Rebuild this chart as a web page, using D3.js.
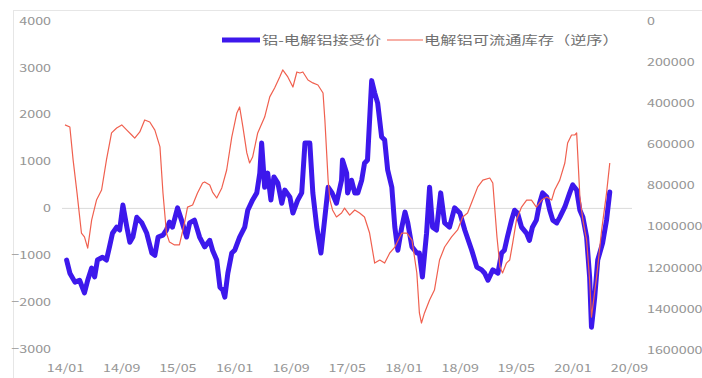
<!DOCTYPE html>
<html><head><meta charset="utf-8">
<script src="https://cdn.jsdelivr.net/npm/d3@7"></script>
<style>html,body{margin:0;padding:0;background:#fff;overflow:hidden}</style>
</head><body>
<svg id="c" width="702" height="378"></svg>
<script>
// ---- data ----
const seriesNames = ["铝-电解铝接受价", "电解铝可流通库存（逆序）"];
const leftTicks = [-3000, -2000, -1000, 0, 1000, 2000, 3000, 4000];
const rightTicks = [0, 200000, 400000, 600000, 800000, 1000000, 1200000, 1400000, 1600000];
const xTickLabels = ["14/01","14/09","15/05","16/01","16/09","17/05","18/01","18/09","19/05","20/01","20/09"];

const spreadDates = ["2014-01-08","2014-01-22","2014-02-13","2014-03-05","2014-03-26","2014-04-09","2014-04-26","2014-05-09","2014-05-21","2014-06-12","2014-06-29","2014-07-12","2014-07-25","2014-08-12","2014-08-25","2014-09-08","2014-09-25","2014-10-08","2014-10-21","2014-11-07","2014-11-29","2014-12-20","2015-01-11","2015-01-24","2015-02-07","2015-02-28","2015-03-15","2015-03-28","2015-04-10","2015-05-02","2015-05-19","2015-06-10","2015-06-23","2015-07-14","2015-08-05","2015-08-27","2015-09-18","2015-09-30","2015-10-18","2015-11-01","2015-11-13","2015-11-22","2015-12-05","2015-12-22","2016-01-04","2016-01-25","2016-02-16","2016-02-29","2016-03-21","2016-04-08","2016-04-21","2016-04-29","2016-05-04","2016-05-12","2016-05-25","2016-06-08","2016-06-21","2016-07-08","2016-07-25","2016-08-07","2016-08-29","2016-09-11","2016-10-02","2016-10-19","2016-11-02","2016-11-23","2016-12-06","2016-12-23","2017-01-10","2017-01-27","2017-02-10","2017-02-27","2017-03-18","2017-04-09","2017-04-13","2017-05-01","2017-05-05","2017-05-22","2017-06-05","2017-06-18","2017-07-05","2017-07-17","2017-07-30","2017-08-17","2017-08-30","2017-09-12","2017-09-29","2017-10-12","2017-10-25","2017-11-12","2017-11-25","2017-12-08","2017-12-25","2018-01-08","2018-01-20","2018-02-07","2018-02-28","2018-03-11","2018-03-24","2018-04-11","2018-04-24","2018-05-07","2018-05-24","2018-06-11","2018-06-28","2018-07-19","2018-08-10","2018-09-02","2018-09-23","2018-10-23","2018-11-14","2018-12-05","2018-12-18","2019-01-01","2019-01-22","2019-02-13","2019-03-01","2019-03-13","2019-03-26","2019-04-13","2019-04-26","2019-05-09","2019-05-26","2019-06-17","2019-06-29","2019-07-12","2019-07-29","2019-08-12","2019-08-25","2019-09-12","2019-09-25","2019-10-08","2019-10-25","2019-11-07","2019-11-29","2019-12-20","2020-01-02","2020-01-19","2020-02-02","2020-02-15","2020-03-02","2020-03-15","2020-03-23","2020-04-06","2020-04-19","2020-05-10","2020-05-27","2020-06-10"];
const spreadValues = [-1100,-1380,-1570,-1530,-1800,-1530,-1270,-1460,-1100,-1040,-1100,-820,-530,-400,-460,70,-400,-720,-610,-190,-310,-530,-950,-1000,-610,-570,-460,-290,-400,10,-250,-610,-310,-250,-610,-820,-680,-890,-1100,-1680,-1740,-1890,-1380,-950,-890,-610,-400,-40,180,330,750,1390,1030,450,750,180,670,540,110,390,240,-100,180,330,1390,1390,330,-400,-950,-190,450,330,110,600,1030,750,330,600,330,330,600,960,1030,2720,2460,2240,1520,1460,820,450,-400,-890,-400,-80,-310,-820,-950,-950,-1460,-530,450,-400,-460,330,-310,-400,10,-100,-460,-890,-1250,-1310,-1380,-1530,-1310,-1380,-950,-890,-610,-250,-40,-100,-400,-530,-680,-400,-250,110,330,240,-40,-250,-310,-190,30,330,500,390,-40,-190,-610,-1460,-2530,-1890,-1100,-740,-250,350];

const stockDates = ["2014-01-01","2014-01-22","2014-02-05","2014-02-22","2014-03-13","2014-03-26","2014-04-09","2014-04-26","2014-05-17","2014-06-08","2014-06-29","2014-07-21","2014-08-12","2014-09-03","2014-09-25","2014-10-16","2014-10-29","2014-11-20","2014-12-11","2015-01-02","2015-01-24","2015-02-15","2015-02-28","2015-03-15","2015-03-28","2015-04-19","2015-05-10","2015-06-01","2015-06-14","2015-07-06","2015-07-27","2015-08-18","2015-08-27","2015-09-18","2015-09-30","2015-10-18","2015-11-09","2015-11-30","2015-12-22","2016-01-13","2016-01-25","2016-02-08","2016-02-25","2016-03-08","2016-03-21","2016-04-12","2016-05-12","2016-06-03","2016-06-24","2016-07-16","2016-07-29","2016-08-20","2016-09-11","2016-09-28","2016-10-11","2016-10-24","2016-11-15","2016-12-06","2016-12-28","2017-01-19","2017-01-27","2017-02-10","2017-02-18","2017-03-01","2017-03-18","2017-04-09","2017-04-22","2017-05-14","2017-06-05","2017-06-26","2017-07-17","2017-08-08","2017-08-30","2017-09-21","2017-10-12","2017-11-03","2017-11-25","2017-12-25","2018-01-16","2018-02-07","2018-02-28","2018-03-11","2018-03-20","2018-04-02","2018-04-24","2018-05-15","2018-06-06","2018-06-28","2018-07-28","2018-08-23","2018-09-14","2018-10-05","2018-10-27","2018-11-18","2018-12-10","2019-01-09","2019-01-22","2019-02-09","2019-02-22","2019-03-05","2019-03-22","2019-04-05","2019-04-18","2019-05-04","2019-05-26","2019-06-17","2019-07-08","2019-07-29","2019-08-21","2019-09-12","2019-10-03","2019-10-16","2019-11-07","2019-11-29","2019-12-11","2019-12-28","2020-01-11","2020-01-19","2020-02-02","2020-02-15","2020-03-02","2020-03-15","2020-03-23","2020-04-14","2020-05-06","2020-05-27","2020-06-10"];
const stockValues = [507000,517000,677000,838000,1032000,1051000,1105000,969000,872000,823000,677000,546000,522000,507000,532000,556000,571000,541000,483000,493000,532000,614000,838000,1032000,1076000,1090000,1090000,983000,906000,896000,838000,789000,784000,799000,833000,862000,813000,726000,566000,449000,420000,517000,643000,692000,663000,546000,469000,371000,328000,274000,240000,274000,323000,250000,255000,250000,289000,303000,313000,352000,483000,775000,872000,920000,954000,935000,911000,945000,920000,935000,954000,1032000,1178000,1163000,1178000,1129000,1100000,1032000,1032000,1066000,1226000,1420000,1469000,1420000,1357000,1309000,1163000,1100000,1051000,1017000,954000,935000,872000,808000,775000,765000,789000,1051000,1197000,1226000,1178000,1163000,1080000,969000,906000,872000,872000,906000,872000,857000,872000,823000,775000,692000,595000,556000,556000,546000,857000,969000,1066000,1260000,1440000,1246000,1017000,838000,692000];

// ---- chart ----
const parse = d3.timeParse("%Y-%m-%d");
const svg = d3.select("#c");
const FONT = "'Noto Sans CJK SC','Noto Sans',sans-serif";
const SX = 1.3;
const BLUE = "#3d18ec", RED = "#f0604f";

const x = d3.scaleTime().domain([parse("2014-01-01"), parse("2020-09-01")]).range([65, 629]);
const yL = d3.scaleLinear().domain([-3000, 4000]).range([349.3, 20.5]);
const yR = d3.scaleLinear().domain([0, 1600000]).range([20.5, 350]);

// outer border
svg.append("rect").attr("x", 13.5).attr("y", 10.5).attr("width", 700).attr("height", 380)
  .attr("fill", "none").attr("stroke", "#e6e6e6").attr("stroke-width", 1);

// zero line
svg.append("line").attr("x1", 62).attr("x2", 632).attr("y1", yL(0)).attr("y2", yL(0))
  .attr("stroke", "#dadada").attr("stroke-width", 1);

function styleAxis(g) {
  g.select(".domain").remove();
  g.selectAll(".tick line").remove();
  g.selectAll("text").attr("fill", "#959595").style("font-family", FONT).style("font-size", "11px")
    .attr("transform", `scale(${SX},1)`);
}

svg.append("g").attr("transform", "translate(51,0)")
  .call(d3.axisLeft(yL).tickValues(leftTicks).tickSize(0).tickPadding(0).tickFormat(d3.format("d")))
  .call(styleAxis);

svg.append("g").attr("transform", "translate(647,0)")
  .call(d3.axisRight(yR).tickValues(rightTicks).tickSize(0).tickPadding(0).tickFormat(d3.format("d")))
  .call(styleAxis);

const xTickDates = xTickLabels.map(s => parse("20" + s.slice(0, 2) + "-" + s.slice(3) + "-01"));
svg.append("g").attr("transform", "translate(0,364)")
  .call(d3.axisBottom(x).tickValues(xTickDates).tickSize(0).tickPadding(0)
    .tickFormat((d, i) => xTickLabels[i]))
  .call(styleAxis);

// lines
const spread = spreadDates.map((d, i) => ({ d: parse(d), v: spreadValues[i] }));
const stock = stockDates.map((d, i) => ({ d: parse(d), v: stockValues[i] }));

svg.append("path").datum(spread)
  .attr("d", d3.line().x(p => x(p.d)).y(p => yL(p.v)))
  .attr("fill", "none").attr("stroke", BLUE).attr("stroke-width", 5)
  .attr("stroke-linejoin", "round").attr("stroke-linecap", "round");

svg.append("path").datum(stock)
  .attr("d", d3.line().x(p => x(p.d)).y(p => yR(p.v)))
  .attr("fill", "none").attr("stroke", RED).attr("stroke-width", 1.2)
  .attr("stroke-linejoin", "round");

// legend
const lg = svg.append("g");
lg.append("line").attr("x1", 222).attr("x2", 260).attr("y1", 40).attr("y2", 40)
  .attr("stroke", BLUE).attr("stroke-width", 5);
lg.append("text").attr("transform", `translate(262,44.5) scale(${SX},1)`)
  .attr("fill", "#707070").style("font-family", FONT).style("font-size", "12.5px").text(seriesNames[0]);
lg.append("line").attr("x1", 387).attr("x2", 423).attr("y1", 40).attr("y2", 40)
  .attr("stroke", RED).attr("stroke-width", 1.2);
lg.append("text").attr("transform", `translate(424,44.5) scale(${SX},1)`)
  .attr("fill", "#707070").style("font-family", FONT).style("font-size", "12.5px").text(seriesNames[1]);
</script>
</body></html>
